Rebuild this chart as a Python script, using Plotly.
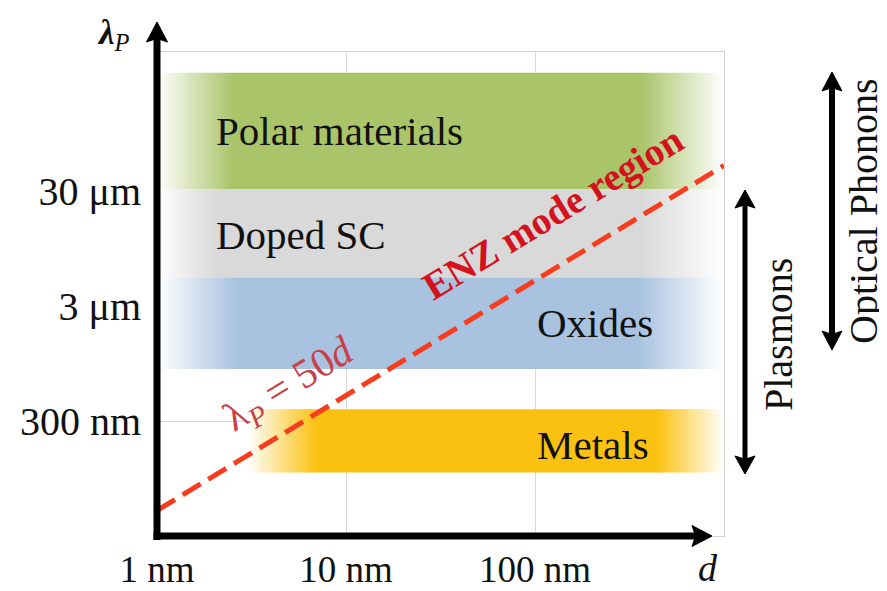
import numpy as np
import plotly.graph_objects as go

# ---------------- data ----------------
band_names = ["Polar materials", "Doped SC", "Oxides", "Metals"]
band_lambda_low = [31000, 5300, 850, 107]        # nm
band_lambda_high = [320000, 31000, 5300, 380]    # nm
band_d_start = [1, 1, 1, 3]                      # nm
band_d_end = [1000, 1000, 1000, 1000]            # nm

line_d = [1, 1000]            # nm
line_lambda = [50, 50000]     # nm  (lambda_P = 50 d)

x_tickvals = [1, 10, 100]
x_ticktext = ["1 nm", "10 nm", "100 nm"]
y_tickvals = [300, 3000, 30000]
y_ticktext = ["300 nm", "3 μm", "30 μm"]

# ---------------- style ----------------
OFF = 8                      # page body margin of the html page
W, H = 887 - OFF, 591 - OFF
# plot area in screen pixels: x 157..724, y 52..536
ML, MT = 157 - OFF, 52 - OFF
MR, MB = W - (724 - OFF), H - (536 - OFF)
PW, PH = W - ML - MR, H - MT - MB
X_RANGE = [0, 3]
Y_RANGE = [np.log10(30), np.log10(30) + PH / 115.0]
FONT = "Liberation Serif, Times New Roman, serif"

band_colors = ["#aac46a", "#d9d9d9", "#a8c2df", "#fbc110"]
fade_in = [0.40, 0.32, 0.42, 0.37]     # decades
fade_out = [0.43, 0.43, 0.45, 0.35]    # decades
label_x = [2.0, 2.0, 100, 100]         # nm, left anchor
label_yshift = [0, -2, 0, -4]


def pxp(x):   # screen px -> paper
    return (x - OFF - ML) / PW


def pyp(y):
    return (H - MB - (y - OFF)) / PH


def blend(hexc, t):
    r, g, b = int(hexc[1:3], 16), int(hexc[3:5], 16), int(hexc[5:7], 16)
    return "rgb(%d,%d,%d)" % (round(255 + (r - 255) * t), round(255 + (g - 255) * t), round(255 + (b - 255) * t))


def rect(x0, x1, y0, y1, color):
    return dict(type="rect", xref="x", yref="y", x0=x0, x1=x1, y0=y0, y1=y1,
                fillcolor=color, line=dict(width=0), layer="between")


shapes = []
N = 32
eps = 0.004
for i in range(len(band_names)):
    y0, y1 = band_lambda_low[i], band_lambda_high[i]
    ls, le = np.log10(band_d_start[i]), np.log10(band_d_end[i])
    a, b = ls + fade_in[i], le - fade_out[i]
    c = band_colors[i]
    shapes.append(rect(10 ** a, 10 ** b, y0, y1, c))
    for k in range(N):
        t = (k + 0.5) / N
        xa = ls + (a - ls) * k / N
        xb = ls + (a - ls) * (k + 1) / N + eps
        shapes.append(rect(10 ** xa, 10 ** xb, y0, y1, blend(c, t)))
        xa = b + (le - b) * k / N - eps
        xb = b + (le - b) * (k + 1) / N
        shapes.append(rect(10 ** xa, 10 ** xb, y0, y1, blend(c, 1 - t)))


# ---- arrows drawn as paper shapes (screen pixel positions converted) ----
def pline(x0, y0, x1, y1, w):
    return dict(type="line", xref="paper", yref="paper", x0=pxp(x0), y0=pyp(y0), x1=pxp(x1), y1=pyp(y1),
                line=dict(color="#000000", width=w), layer="above")


def phead(tx, ty, direction, L, Wd):
    if direction == "up":
        pts = [(tx, ty), (tx + Wd / 2, ty + L), (tx, ty + L * 0.82), (tx - Wd / 2, ty + L)]
    elif direction == "down":
        pts = [(tx, ty), (tx + Wd / 2, ty - L), (tx, ty - L * 0.82), (tx - Wd / 2, ty - L)]
    else:  # right
        pts = [(tx, ty), (tx - L, ty - Wd / 2), (tx - L * 0.82, ty), (tx - L, ty + Wd / 2)]
    path = "M " + " L ".join("%.5f,%.5f" % (pxp(x), pyp(y)) for x, y in pts) + " Z"
    return dict(type="path", xref="paper", yref="paper", path=path, fillcolor="#000000",
                line=dict(color="#000000", width=1), layer="above")


# y axis
shapes.append(pline(157, 540, 157, 36, 7))
shapes.append(phead(157, 22, "up", 20, 21))
# x axis
shapes.append(pline(153.5, 536, 698, 536, 7))
shapes.append(phead(712, 536, "right", 20, 21))
# Plasmons double arrow
shapes.append(pline(745, 202, 745, 462, 5))
shapes.append(phead(745, 190, "up", 18, 20))
shapes.append(phead(745, 474, "down", 18, 20))
# Optical Phonons double arrow
shapes.append(pline(832, 84, 832, 338, 6))
shapes.append(phead(832, 72, "up", 19, 20))
shapes.append(phead(832, 350, "down", 19, 20))

fig = go.Figure()
fig.add_trace(go.Scatter(
    x=line_d, y=line_lambda, mode="lines",
    line=dict(color="#f83c1e", width=5, dash="21px,9px"),
    cliponaxis=False, hoverinfo="skip", showlegend=False))

ann = []
# band labels
for i, name in enumerate(band_names):
    yc = 0.5 * (np.log10(band_lambda_low[i]) + np.log10(band_lambda_high[i]))
    ann.append(dict(xref="x", yref="y", x=np.log10(label_x[i]), y=yc, text=name,
                    showarrow=False, xanchor="left", yanchor="middle", yshift=label_yshift[i],
                    font=dict(family=FONT, size=41, color="#111111")))


def ptext(x, y, text, size, color="#111111", angle=0):
    return dict(xref="paper", yref="paper", x=pxp(x), y=pyp(y), text=text, showarrow=False,
                xanchor="center", yanchor="middle", textangle=angle,
                font=dict(family=FONT, size=size, color=color))


# ENZ texts
ann.append(ptext(553, 213, "<b>ENZ mode region</b>", 39, "#d3121e", -31.3))
ann.append(ptext(289, 386, "λ<sub><i>P</i></sub> = 50<i>d</i>", 41, "#c8404a", -31.3))
# axis titles
ann.append(ptext(113, 34, "<b><i>λ</i></b><sub><i>P</i></sub>", 35))
ann.append(ptext(708, 568, "<i>d</i>", 38))
# right side labels
ann.append(ptext(778, 335, "Plasmons", 40, angle=-90))
ann.append(ptext(864, 211, "Optical Phonons", 40, angle=-90))

axis_common = dict(type="log", showgrid=True, gridcolor="#d8d8d8", gridwidth=1, zeroline=False,
                   showline=True, linecolor="#d0d0d0", linewidth=1, mirror=True, ticks="",
                   automargin=False)

fig.update_layout(
    width=W, height=H,
    margin=dict(l=ML, r=MR, t=MT, b=MB, pad=0),
    paper_bgcolor="white", plot_bgcolor="white",
    showlegend=False,
    xaxis=dict(range=X_RANGE, tickvals=x_tickvals, ticktext=x_ticktext,
               tickfont=dict(family=FONT, size=37, color="#111111"), ticklabelstandoff=1, **axis_common),
    yaxis=dict(range=Y_RANGE, tickvals=y_tickvals, ticktext=y_ticktext,
               tickfont=dict(family=FONT, size=40, color="#111111"), ticklabelstandoff=7, **axis_common),
    shapes=shapes,
    annotations=ann,
)

fig.write_html("out.html")
